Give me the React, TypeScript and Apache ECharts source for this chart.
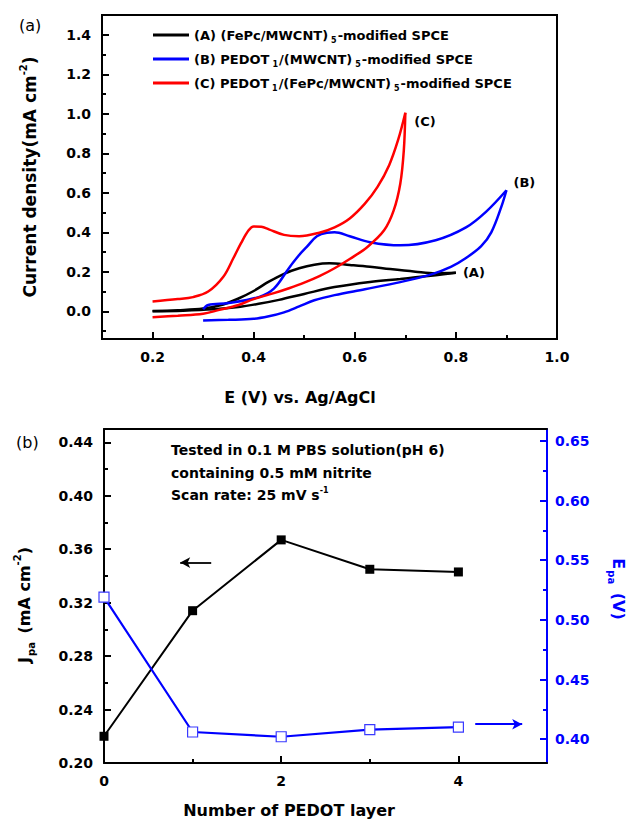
import React, { useEffect, useRef } from 'react';
import * as echarts from 'echarts';

// ---------- Data: panel (a) cyclic voltammograms, [E (V), J (mA cm-2)] ----------
const cvA_forward: [number, number][] = [
  [0.20, 0.002], [0.25, 0.006], [0.30, 0.014], [0.34, 0.035], [0.37, 0.065], [0.40, 0.103],
  [0.43, 0.150], [0.46, 0.190], [0.49, 0.218], [0.52, 0.236], [0.55, 0.243], [0.59, 0.235],
  [0.63, 0.226], [0.67, 0.214], [0.72, 0.201], [0.76, 0.193], [0.80, 0.195],
];
const cvA_return: [number, number][] = [
  [0.80, 0.195], [0.76, 0.183], [0.72, 0.172], [0.69, 0.164], [0.63, 0.149], [0.56, 0.123],
  [0.50, 0.088], [0.45, 0.058], [0.41, 0.038], [0.37, 0.022], [0.32, 0.010], [0.26, 0.003], [0.20, 0.000],
];
const cvB_forward: [number, number][] = [
  [0.30, -0.046], [0.35, -0.043], [0.40, -0.038], [0.43, -0.025], [0.46, -0.005], [0.49, 0.025],
  [0.52, 0.056], [0.56, 0.082], [0.62, 0.112], [0.69, 0.148], [0.75, 0.186], [0.79, 0.225],
  [0.82, 0.270], [0.85, 0.330], [0.87, 0.400], [0.89, 0.530], [0.90, 0.613],
];
const cvB_return: [number, number][] = [
  [0.90, 0.613], [0.86, 0.505], [0.82, 0.425], [0.76, 0.360], [0.69, 0.334], [0.63, 0.350],
  [0.59, 0.380], [0.56, 0.400], [0.545, 0.398], [0.525, 0.380], [0.505, 0.326], [0.49, 0.285],
  [0.47, 0.220], [0.44, 0.115], [0.41, 0.072], [0.35, 0.042], [0.31, 0.032], [0.30, 0.010],
];
const cvC_forward: [number, number][] = [
  [0.20, 0.050], [0.25, 0.062], [0.28, 0.072], [0.31, 0.100], [0.34, 0.175], [0.36, 0.270],
  [0.375, 0.345], [0.39, 0.410], [0.40, 0.430], [0.415, 0.428], [0.43, 0.415], [0.46, 0.387],
  [0.49, 0.380], [0.53, 0.398], [0.56, 0.425], [0.59, 0.470], [0.62, 0.545], [0.645, 0.630],
  [0.668, 0.740], [0.686, 0.870], [0.70, 1.005],
];
const cvC_return: [number, number][] = [
  [0.70, 1.005], [0.697, 0.815], [0.690, 0.646], [0.677, 0.511], [0.658, 0.410], [0.625, 0.326],
  [0.59, 0.265], [0.56, 0.218], [0.53, 0.178], [0.50, 0.145], [0.47, 0.117], [0.44, 0.092],
  [0.40, 0.062], [0.37, 0.032], [0.33, 0.006], [0.30, -0.012], [0.25, -0.022], [0.20, -0.030],
];

const seriesNames = ['A', 'B', 'C'];
const legendTexts = [
  '(A) (FePc/MWCNT){sub|5}-modified SPCE',
  '(B) PEDOT{sub|1}/(MWCNT){sub|5}-modified SPCE',
  '(C) PEDOT{sub|1}/(FePc/MWCNT){sub|5}-modified SPCE',
];
const curveColors = ['#000000', '#0000ff', '#ff0000'];

// ticks panel (a)
const xTicksTop = [0.2, 0.4, 0.6, 0.8, 1.0];
const xMinorTop = [0.3, 0.5, 0.7, 0.9];
const yTicksTop = [0, 0.2, 0.4, 0.6, 0.8, 1.0, 1.2, 1.4];
const yMinorTop = [-0.1, 0.1, 0.3, 0.5, 0.7, 0.9, 1.1, 1.3];

// ---------- Data: panel (b) ----------
const layers = [0, 1, 2, 3, 4];
const jpa = [0.220, 0.314, 0.367, 0.345, 0.343];
const epa = [0.519, 0.406, 0.402, 0.408, 0.410];

const xTicksBottom = [0, 2, 4];
const xMinorBottom = [1, 3];
const jTicks = [0.20, 0.24, 0.28, 0.32, 0.36, 0.40, 0.44];
const jMinor = [0.22, 0.26, 0.30, 0.34, 0.38, 0.42];
const eTicks = [0.40, 0.45, 0.50, 0.55, 0.60, 0.65];
const eMinor = [0.425, 0.475, 0.525, 0.575, 0.625];

const annotationLines = [
  'Tested in 0.1 M PBS solution(pH 6)',
  'containing 0.5 mM nitrite',
  'Scan rate: 25 mV s{sup|-1}',
];

const FONT = "'DejaVu Sans', sans-serif";
const BLUE = '#0000ff';

function majorAxis(o: any) {
  return {
    type: 'value',
    gridIndex: o.grid,
    min: o.min,
    max: o.max,
    position: o.position,
    axisLine: { show: true, onZero: false, lineStyle: { color: o.color, width: 2 } },
    axisTick: { show: true, inside: true, length: 7, customValues: o.ticks, lineStyle: { color: o.color, width: 2 } },
    axisLabel: {
      show: true, customValues: o.ticks, formatter: o.fmt, color: o.color, fontFamily: FONT,
      fontWeight: 'bold', fontSize: 14, margin: o.margin,
    },
    splitLine: { show: false },
  };
}
function minorAxis(o: any) {
  return {
    type: 'value',
    gridIndex: o.grid,
    min: o.min,
    max: o.max,
    position: o.position,
    axisLine: { show: false, onZero: false },
    axisTick: { show: true, inside: true, length: 4, customValues: o.ticks, lineStyle: { color: o.color, width: 2 } },
    axisLabel: { show: false },
    splitLine: { show: false },
  };
}

export default function App() {
  const ref = useRef<HTMLDivElement>(null);
  useEffect(() => {
    if (!ref.current) return;
    const chart = echarts.init(ref.current, null, { renderer: 'svg' });

    const cvPairs = [
      [cvA_forward, cvA_return],
      [cvB_forward, cvB_return],
      [cvC_forward, cvC_return],
    ];
    const tipLabels = [
      { text: '(A)', coord: cvA_forward[cvA_forward.length - 1], offset: [0, 0] },
      { text: '(B)', coord: cvB_forward[cvB_forward.length - 1], offset: [0, -8] },
      { text: '(C)', coord: cvC_forward[cvC_forward.length - 1], offset: [2, 9] },
    ];

    const cvSeries: any[] = [];
    cvPairs.forEach((pair, i) => {
      pair.forEach((branch, j) => {
        const s: any = {
          name: seriesNames[i],
          type: 'line',
          xAxisIndex: 0,
          yAxisIndex: 0,
          data: branch,
          smooth: 0.35,
          symbol: 'none',
          lineStyle: { color: curveColors[i], width: 2.5 },
          itemStyle: { color: curveColors[i] },
          z: 3 + i,
        };
        if (j === 0) {
          s.markPoint = {
            silent: true,
            symbol: 'circle',
            symbolSize: 0,
            data: [{ coord: tipLabels[i].coord }],
            label: {
              show: true,
              position: 'right',
              distance: 7,
              offset: tipLabels[i].offset,
              formatter: tipLabels[i].text,
              color: '#000',
              fontFamily: FONT,
              fontWeight: 'bold',
              fontSize: 13,
            },
          };
        }
        cvSeries.push(s);
      });
    });

    const legendMap: Record<string, string> = {};
    seriesNames.forEach((n, i) => (legendMap[n] = legendTexts[i]));

    const option: any = {
      animation: false,
      backgroundColor: '#ffffff',
      grid: [
        { left: 102, top: 15, width: 455, height: 324, show: true, borderColor: '#000', borderWidth: 2, backgroundColor: 'transparent' },
        { left: 104, top: 429, width: 443, height: 334, show: false },
      ],
      legend: {
        show: true,
        orient: 'vertical',
        left: 148,
        top: 21,
        itemWidth: 36,
        itemHeight: 3,
        itemGap: 6,
        icon: 'rect',
        data: seriesNames,
        selectedMode: false,
        formatter: (n: string) => legendMap[n],
        textStyle: {
          fontFamily: FONT,
          fontWeight: 'bold',
          fontSize: 13,
          color: '#000',
          lineHeight: 18,
          rich: {
            sub: { fontFamily: FONT, fontWeight: 'bold', fontSize: 8, lineHeight: 8, verticalAlign: 'bottom', color: '#000', padding: [0, 1, 0, 3] },
          },
        },
      },
      xAxis: [
        majorAxis({ grid: 0, min: 0.1, max: 1.0, position: 'bottom', ticks: xTicksTop, color: '#000', margin: 11, fmt: (v: number) => v.toFixed(1) }),
        minorAxis({ grid: 0, min: 0.1, max: 1.0, position: 'bottom', ticks: xMinorTop, color: '#000' }),
        majorAxis({ grid: 1, min: 0, max: 5, position: 'bottom', ticks: xTicksBottom, color: '#000', margin: 11, fmt: (v: number) => String(Math.round(v)) }),
        minorAxis({ grid: 1, min: 0, max: 5, position: 'bottom', ticks: xMinorBottom, color: '#000' }),
        {
          type: 'value', gridIndex: 1, min: 0, max: 5, position: 'top',
          axisLine: { show: true, onZero: false, lineStyle: { color: '#000', width: 2 } },
          axisTick: { show: false }, axisLabel: { show: false }, splitLine: { show: false },
        },
      ],
      yAxis: [
        majorAxis({ grid: 0, min: -0.14, max: 1.5, position: 'left', ticks: yTicksTop, color: '#000', margin: 11, fmt: (v: number) => v.toFixed(1) }),
        minorAxis({ grid: 0, min: -0.14, max: 1.5, position: 'left', ticks: yMinorTop, color: '#000' }),
        majorAxis({ grid: 1, min: 0.2, max: 0.45, position: 'left', ticks: jTicks, color: '#000', margin: 11, fmt: (v: number) => v.toFixed(2) }),
        minorAxis({ grid: 1, min: 0.2, max: 0.45, position: 'left', ticks: jMinor, color: '#000' }),
        majorAxis({ grid: 1, min: 0.38, max: 0.66, position: 'right', ticks: eTicks, color: BLUE, margin: 8, fmt: (v: number) => v.toFixed(2) }),
        minorAxis({ grid: 1, min: 0.38, max: 0.66, position: 'right', ticks: eMinor, color: BLUE }),
      ],
      series: [
        ...cvSeries,
        {
          name: 'Jpa',
          type: 'line',
          xAxisIndex: 2,
          yAxisIndex: 2,
          data: layers.map((l, i) => [l, jpa[i]]),
          symbol: 'rect',
          symbolSize: 9,
          lineStyle: { color: '#000', width: 2 },
          itemStyle: { color: '#000' },
          clip: false,
          z: 4,
          markLine: {
            silent: true,
            symbol: ['none', 'arrow'],
            symbolSize: [8, 10],
            label: { show: false },
            lineStyle: { color: '#000', width: 1.8, type: 'solid' },
            data: [[{ coord: [1.21, 0.35] }, { coord: [0.86, 0.35] }]],
          },
        },
        {
          name: 'Epa',
          type: 'line',
          xAxisIndex: 2,
          yAxisIndex: 4,
          data: layers.map((l, i) => [l, epa[i]]),
          symbol: 'rect',
          symbolSize: 10,
          lineStyle: { color: BLUE, width: 2.2 },
          itemStyle: { color: '#ffffff', borderColor: '#3a3aff', borderWidth: 1.2 },
          clip: false,
          z: 5,
          markLine: {
            silent: true,
            symbol: ['none', 'arrow'],
            symbolSize: [8, 10],
            label: { show: false },
            lineStyle: { color: BLUE, width: 1.8, type: 'solid' },
            data: [[{ coord: [4.19, 0.4125] }, { coord: [4.72, 0.4125] }]],
          },
        },
      ],
      graphic: [
        { type: 'text', left: 19, top: 17, style: { text: '(a)', fill: '#000', fontFamily: FONT, fontSize: 16 } },
        { type: 'text', left: 16, top: 434, style: { text: '(b)', fill: '#000', fontFamily: FONT, fontSize: 16 } },
        {
          type: 'text', x: 300, y: 397,
          style: { text: 'E (V) vs. Ag/AgCl', fill: '#000', fontFamily: FONT, fontWeight: 'bold', fontSize: 16, align: 'center', verticalAlign: 'middle' },
        },
        {
          type: 'text', x: 289, y: 810,
          style: { text: 'Number of PEDOT layer', fill: '#000', fontFamily: FONT, fontWeight: 'bold', fontSize: 16, align: 'center', verticalAlign: 'middle' },
        },
        {
          type: 'text', x: 30, y: 177, rotation: Math.PI / 2,
          style: {
            text: 'Current density(mA cm{sup|-2})', fill: '#000', fontFamily: FONT, fontWeight: 'bold', fontSize: 17,
            lineHeight: 24, align: 'center', verticalAlign: 'middle',
            rich: { sup: { fontFamily: FONT, fontWeight: 'bold', fontSize: 10, lineHeight: 10, verticalAlign: 'top', fill: '#000' } },
          },
        },
        {
          type: 'text', x: 24, y: 605, rotation: Math.PI / 2,
          style: {
            text: 'J{sub|pa} (mA cm{sup|-2})', fill: '#000', fontFamily: FONT, fontWeight: 'bold', fontSize: 16,
            lineHeight: 24, align: 'center', verticalAlign: 'middle',
            rich: {
              sub: { fontFamily: FONT, fontWeight: 'bold', fontSize: 10, lineHeight: 10, verticalAlign: 'bottom', fill: '#000', padding: [0, 3, 0, 1] },
              sup: { fontFamily: FONT, fontWeight: 'bold', fontSize: 10, lineHeight: 10, verticalAlign: 'top', fill: '#000' },
            },
          },
        },
        {
          type: 'text', x: 618, y: 589, rotation: -Math.PI / 2,
          style: {
            text: 'E{sub|pa} (V)', fill: BLUE, fontFamily: FONT, fontWeight: 'bold', fontSize: 16,
            lineHeight: 24, align: 'center', verticalAlign: 'middle',
            rich: { sub: { fontFamily: FONT, fontWeight: 'bold', fontSize: 10, lineHeight: 10, verticalAlign: 'bottom', fill: BLUE, padding: [0, 3, 0, 1] } },
          },
        },
        ...annotationLines.map((t, i) => ({
          type: 'text', x: 171, y: 450 + i * 22.5,
          style: {
            text: t, fill: '#000', fontFamily: FONT, fontWeight: 'bold', fontSize: 14, lineHeight: 18,
            align: 'left', verticalAlign: 'middle',
            rich: { sup: { fontFamily: FONT, fontWeight: 'bold', fontSize: 8, lineHeight: 8, verticalAlign: 'top', fill: '#000' } },
          },
        })),
      ],
    };

    chart.setOption(option);
    return () => chart.dispose();
  }, []);

  return (
    <div
      ref={ref}
      style={{ position: 'absolute', left: 0, top: 0, width: 635, height: 820, background: '#fff' }}
    />
  );
}
